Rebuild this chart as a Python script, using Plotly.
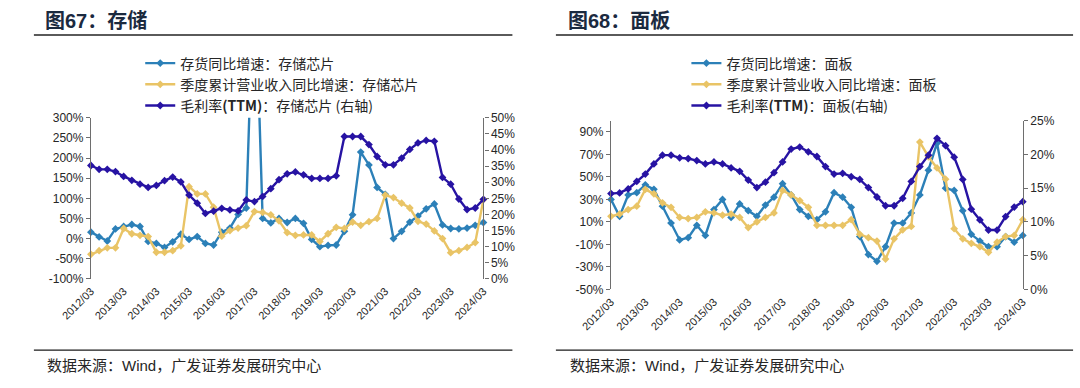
import plotly.graph_objects as go

W, H = 1080, 388

# ---------------- data ----------------
quarters = [
    '2012/03', '2012/06', '2012/09', '2012/12', '2013/03', '2013/06', '2013/09', '2013/12',
    '2014/03', '2014/06', '2014/09', '2014/12', '2015/03', '2015/06', '2015/09', '2015/12',
    '2016/03', '2016/06', '2016/09', '2016/12', '2017/03', '2017/06', '2017/09', '2017/12',
    '2018/03', '2018/06', '2018/09', '2018/12', '2019/03', '2019/06', '2019/09', '2019/12',
    '2020/03', '2020/06', '2020/09', '2020/12', '2021/03', '2021/06', '2021/09', '2021/12',
    '2022/03', '2022/06', '2022/09', '2022/12', '2023/03', '2023/06', '2023/09', '2023/12',
    '2024/03',
]
tick_labels = ['2012/03', '2013/03', '2014/03', '2015/03', '2016/03', '2017/03', '2018/03',
               '2019/03', '2020/03', '2021/03', '2022/03', '2023/03', '2024/03']

# 图67 存储芯片 (%)
mem_inventory_yoy = [16, 4, -6, 24, 30, 35, 30, -7, -12, -22,
                     -8, 11, -2, 5, -12, -16, 16, 26, 60, 76,
                     700, 50, 39, 50, 40, 50, 38, -2, -20, -17,
                     -16, 18, 59, 215, 183, 127, 110, 0, 18, 41,
                     56, 74, 86, 34, 25, 24, 26, 33, 40]
mem_revenue_yoy = [-39, -30, -23, -23, 25, 12, 8, 5, -34, -34,
                   -30, -18, 129, 111, 111, 78, 6, 20, 26, 32,
                   67, 65, 59, 44, 15, 8, 9, 9, -7, 12,
                   28, 25, 41, 33, 42, 50, 108, 102, 88, 76,
                   43, 36, 19, 0, -35, -30, -22, -10, 97]
mem_gross_margin = [35.2, 34.0, 34.0, 33.3, 31.8, 30.6, 29.4, 28.4, 29.0, 30.5,
                    31.6, 30.1, 26.0, 23.5, 20.3, 21.0, 21.9, 21.4, 21.1, 24.5,
                    24.0, 25.6, 28.0, 30.8, 32.6, 33.2, 32.3, 31.2, 31.2, 31.2,
                    32.0, 44.2, 44.2, 44.2, 41.7, 38.0, 35.4, 35.4, 37.5, 40.2,
                    42.2, 43.0, 42.7, 31.5, 29.4, 24.8, 21.5, 22.0, 24.7]

# 图68 面板 (%)
panel_inventory_yoy = [30, 15, 34, 36, 43, 39, 24, 9, -6, -4,
                       7, -2, 21, 30, 14, 26, 20, 15, 25, 32,
                       44, 34, 21, 15, 12, 19, 36, 32, 23, -3,
                       -19, -25, -12, 9, 9, 18, 34, 56, 80, 40,
                       38, 20, -1, -7, -12, -12, -3, -8, -2]
panel_revenue_yoy = [15, 17, 21, 24, 39, 35, 27, 23, 14, 13,
                     14, 19, 18, 16, 17, 14, 5, 10, 14, 18,
                     38, 34, 29, 23, 7, 7, 7, 7, 12, -1,
                     -4, -7, -23, -5, 3, 6, 81, 68, 58, 48,
                     4, -5, -9, -12, -17, -8, -3, -2, 12]
panel_gross_margin = [14.2, 14.3, 14.9, 16.0, 17.1, 18.6, 19.9, 19.9, 19.5, 19.4,
                      19.1, 18.6, 18.9, 18.6, 18.0, 17.5, 16.2, 15.1, 15.9, 17.3,
                      18.9, 20.8, 21.1, 20.4, 19.7, 18.2, 17.1, 17.2, 16.7, 16.3,
                      15.1, 13.7, 12.4, 12.4, 13.5, 16.0, 18.2, 19.9, 22.4, 21.3,
                      19.6, 16.3, 11.9, 10.3, 8.8, 8.8, 10.8, 12.2, 13.0]

mem_left_ticks = [-100, -50, 0, 50, 100, 150, 200, 250, 300]
mem_right_ticks = [0, 5, 10, 15, 20, 25, 30, 35, 40, 45, 50]
panel_left_ticks = [-50, -30, -10, 10, 30, 50, 70, 90]
panel_right_ticks = [0, 5, 10, 15, 20, 25]

# ---------------- style ----------------
C_INV = '#2C80B8'
C_REV = '#E9C466'
C_GM = '#2713A3'
AX = '#6E6E6E'
TXT = '#262626'
LAT = 'Liberation Sans, Arial, Noto Sans CJK SC, sans-serif'
CJK = 'Noto Sans CJK SC, Liberation Sans, sans-serif'


def px_x(p):
    return p / W


def px_y(p):
    return 1 - p / H


# plot areas in pixels (left, right, top, bottom)
L_BOX = (62, 468, 115, 282)
R_BOX = (600, 1026, 118, 293)


def dom(box):
    l, r, t, b = box
    return [px_x(l), px_x(r)], [px_y(b), px_y(t)]


lx, ly = dom(L_BOX)
rx, ry = dom(R_BOX)

fig = go.Figure()


def add_series(y, name, color, xa, ya, legend):
    fig.add_trace(go.Scatter(
        x=quarters, y=y, name=name, mode='lines+markers',
        line=dict(color=color, width=2.4),
        marker=dict(symbol='diamond', size=6, color=color),
        xaxis=xa, yaxis=ya, legend=legend, cliponaxis=False,
        legendgroup=name,
    ))


add_series(mem_inventory_yoy, '存货同比增速：存储芯片', C_INV, 'x', 'y', 'legend')
add_series(mem_revenue_yoy, '季度累计营业收入同比增速：存储芯片', C_REV, 'x', 'y', 'legend')
add_series(mem_gross_margin, '毛利率<b>(TTM)</b>：存储芯片 (右轴)', C_GM, 'x', 'y2', 'legend')

add_series(panel_inventory_yoy, '存货同比增速：面板', C_INV, 'x3', 'y3', 'legend2')
add_series(panel_revenue_yoy, '季度累计营业收入同比增速：面板', C_REV, 'x3', 'y3', 'legend2')
add_series(panel_gross_margin, '毛利率<b>(TTM)</b>：面板(右轴)', C_GM, 'x3', 'y4', 'legend2')


def pct(vals):
    return [f'{v}%' for v in vals]


def yax(domain, anchor, ticks, rng, side='left', overlaying=None):
    d = dict(
        domain=domain, anchor=anchor, range=rng,
        tickvals=ticks, ticktext=pct(ticks), side=side,
        showline=True, linecolor=AX, linewidth=1.2, ticks='outside', ticklen=4, tickcolor=AX,
        showgrid=False, zeroline=False, tickfont=dict(family=LAT, size=12, color=TXT),
    )
    if overlaying:
        d['overlaying'] = overlaying
    return d


def xax(domain, anchor):
    return dict(
        domain=domain, anchor=anchor, type='category', range=[0, len(quarters) - 1],
        tickvals=tick_labels, ticktext=tick_labels, tickangle=-45,
        showline=False, ticks='', showgrid=False, zeroline=False,
        tickfont=dict(family=LAT, size=11, color=TXT), ticklabelstandoff=3,
    )


def zero_axis(overlay, ydomain, yrange):
    frac = (0 - yrange[0]) / (yrange[1] - yrange[0])
    pos = ydomain[0] + frac * (ydomain[1] - ydomain[0])
    return dict(
        overlaying=overlay, anchor='free', position=pos, type='category',
        categoryarray=quarters, categoryorder='array', range=[0, len(quarters) - 1],
        tickvals=tick_labels, showticklabels=False, ticks='outside', ticklen=4,
        tickcolor=AX, showline=True, linecolor=AX, linewidth=1.2, showgrid=False, zeroline=False,
    )


mem_lr = [-100, 300]
panel_lr = [-50, 100]

legend_style = dict(xanchor='left', yanchor='top', bgcolor='rgba(0,0,0,0)',
                    font=dict(family=CJK, size=14, color=TXT), tracegroupgap=0, itemwidth=30)

fig.update_layout(
    width=W, height=H, margin=dict(l=0, r=0, t=0, b=0),
    paper_bgcolor='white', plot_bgcolor='rgba(0,0,0,0)',
    xaxis=xax(lx, 'y'),
    xaxis2=zero_axis('x', ly, mem_lr),
    yaxis=yax(ly, 'x', mem_left_ticks, mem_lr),
    yaxis2=yax(ly, 'x', mem_right_ticks, [0, 50], side='right', overlaying='y'),
    xaxis3=xax(rx, 'y3'),
    xaxis4=zero_axis('x3', ry, panel_lr),
    yaxis3=yax(ry, 'x3', panel_left_ticks, panel_lr),
    yaxis4=yax(ry, 'x3', panel_right_ticks, [0, 25], side='right', overlaying='y3'),
    legend=dict(legend_style, x=px_x(113), y=px_y(42)),
    legend2=dict(legend_style, x=px_x(678), y=px_y(42)),
    showlegend=True,
)

# titles, rules and source notes
for x0, x1, tx, title in [(3, 498, 12, '图67：存储'), (543, 1078, 553, '图68：面板')]:
    fig.add_shape(type='line', xref='paper', yref='paper', x0=px_x(x0), x1=px_x(x1),
                  y0=px_y(29), y1=px_y(29), line=dict(color='#5A5A5A', width=2))
    fig.add_shape(type='line', xref='paper', yref='paper', x0=px_x(x0), x1=px_x(x1),
                  y0=px_y(356), y1=px_y(356), line=dict(color='#1A1A1A', width=1.3))
    fig.add_annotation(xref='paper', yref='paper', x=px_x(tx), y=px_y(15), xanchor='left',
                       yanchor='middle', showarrow=False, text=f'<b>{title}</b>',
                       font=dict(family=LAT, size=20, color='#1B2A3F'))
    fig.add_annotation(xref='paper', yref='paper', x=px_x(tx + 2), y=px_y(372), xanchor='left',
                       yanchor='middle', showarrow=False,
                       text='数据来源：Wind，广发证券发展研究中心',
                       font=dict(family=LAT, size=15, color=TXT))

fig.write_html('out.html', config={'displayModeBar': False},
               post_script="document.body.style.margin='0';document.body.style.padding='0';")
